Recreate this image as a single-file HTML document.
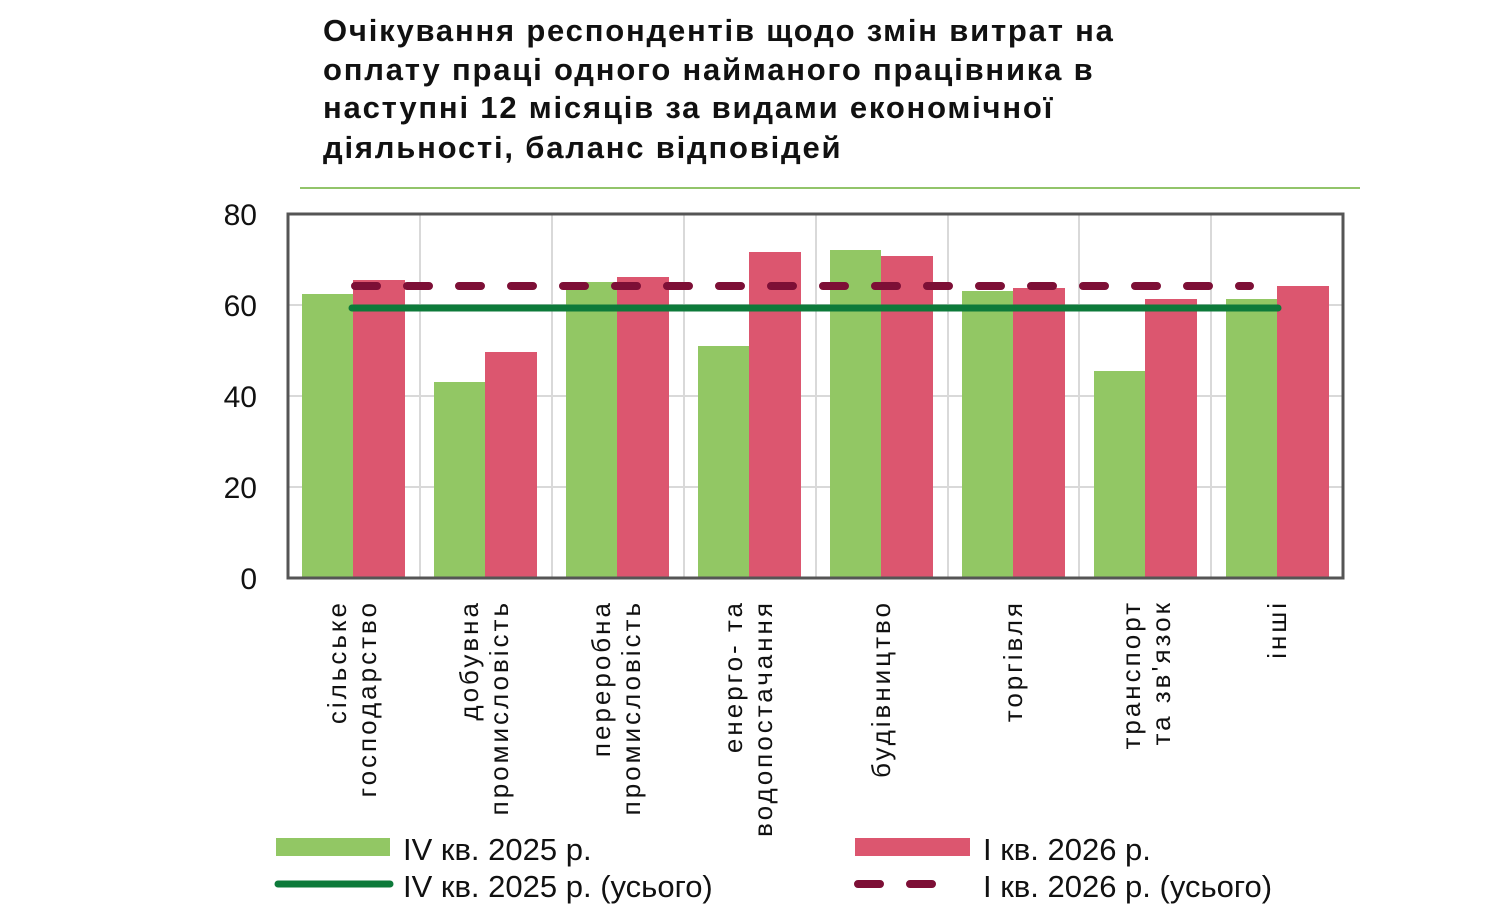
<!DOCTYPE html>
<html><head><meta charset="utf-8"><style>
body{margin:0;background:#fff}
svg{display:block}
text{font-family:"Liberation Sans",sans-serif}
</style></head><body>
<svg width="1500" height="924" xmlns="http://www.w3.org/2000/svg">
<g font-weight="bold" font-size="31" fill="#111" letter-spacing="1.8">
<text x="323" y="41">Очікування респондентів щодо змін витрат на</text>
<text x="323" y="80">оплату праці одного найманого працівника в</text>
<text x="323" y="118">наступні 12 місяців за видами економічної</text>
<text x="323" y="158">діяльності, баланс відповідей</text>
</g>
<line x1="300" y1="188" x2="1360" y2="188" stroke="#92c46a" stroke-width="2"/>
<g stroke="#d9d9d9" stroke-width="2">
<line x1="288" y1="305" x2="1343" y2="305"/><line x1="288" y1="396" x2="1343" y2="396"/><line x1="288" y1="487" x2="1343" y2="487"/>
<line x1="420" y1="214" x2="420" y2="578"/><line x1="552" y1="214" x2="552" y2="578"/><line x1="684" y1="214" x2="684" y2="578"/><line x1="816" y1="214" x2="816" y2="578"/><line x1="948" y1="214" x2="948" y2="578"/><line x1="1079" y1="214" x2="1079" y2="578"/><line x1="1211" y1="214" x2="1211" y2="578"/>
</g>
<g fill="#92c764">
<rect x="302" y="294" width="51" height="284"/><rect x="434" y="382" width="51" height="196"/><rect x="566" y="282" width="51" height="296"/><rect x="698" y="346" width="51" height="232"/><rect x="830" y="250" width="51" height="328"/><rect x="962" y="291" width="51" height="287"/><rect x="1094" y="371" width="51" height="207"/><rect x="1226" y="299" width="51" height="279"/>
</g>
<g fill="#dc566f">
<rect x="353" y="280" width="52" height="298"/><rect x="485" y="352" width="52" height="226"/><rect x="617" y="277" width="52" height="301"/><rect x="749" y="252" width="52" height="326"/><rect x="881" y="256" width="52" height="322"/><rect x="1013" y="288" width="52" height="290"/><rect x="1145" y="299" width="52" height="279"/><rect x="1277" y="286" width="52" height="292"/>
</g>
<line x1="352" y1="308" x2="1278" y2="308" stroke="#0d7a3a" stroke-width="7" stroke-linecap="round"/>
<line x1="355" y1="286" x2="1250" y2="286" stroke="#7d0f36" stroke-width="8" stroke-dasharray="22 30" stroke-linecap="round"/>
<rect x="288" y="214" width="1055" height="364" fill="none" stroke="#555" stroke-width="3"/>
<g fill="#111" font-size="30" text-anchor="end">
<text x="257" y="225">80</text><text x="257" y="316">60</text><text x="257" y="407">40</text><text x="257" y="498">20</text><text x="257" y="589">0</text>
</g>
<g fill="#111" font-size="26" text-anchor="end" letter-spacing="3">
<g transform="translate(346,600) rotate(-90)"><text x="0" y="0">сільське</text><text x="0" y="30">господарство</text></g>
<g transform="translate(478,600) rotate(-90)"><text x="0" y="0">добувна</text><text x="0" y="30">промисловість</text></g>
<g transform="translate(610,600) rotate(-90)"><text x="0" y="0">переробна</text><text x="0" y="30">промисловість</text></g>
<g transform="translate(742,600) rotate(-90)"><text x="0" y="0">енерго- та</text><text x="0" y="30">водопостачання</text></g>
<g transform="translate(890,600) rotate(-90)"><text x="0" y="0">будівництво</text></g>
<g transform="translate(1022,600) rotate(-90)"><text x="0" y="0">торгівля</text></g>
<g transform="translate(1140,600) rotate(-90)"><text x="0" y="0">транспорт</text><text x="0" y="30">та зв'язок</text></g>
<g transform="translate(1286,600) rotate(-90)"><text x="0" y="0">інші</text></g>
</g>
<rect x="276" y="838" width="114" height="18" fill="#92c764"/>
<line x1="278" y1="884" x2="390" y2="884" stroke="#0d7a3a" stroke-width="7" stroke-linecap="round"/>
<rect x="855" y="838" width="115" height="18" fill="#dc566f"/>
<line x1="858" y1="884" x2="945" y2="884" stroke="#7d0f36" stroke-width="8" stroke-dasharray="22 30" stroke-linecap="round"/>
<g fill="#111" font-size="31">
<text x="403" y="860">IV кв. 2025 р.</text><text x="403" y="897">IV кв. 2025 р. (усього)</text>
<text x="983" y="860">I кв. 2026 р.</text><text x="983" y="897">I кв. 2026 р. (усього)</text>
</g>
</svg>
</body></html>
